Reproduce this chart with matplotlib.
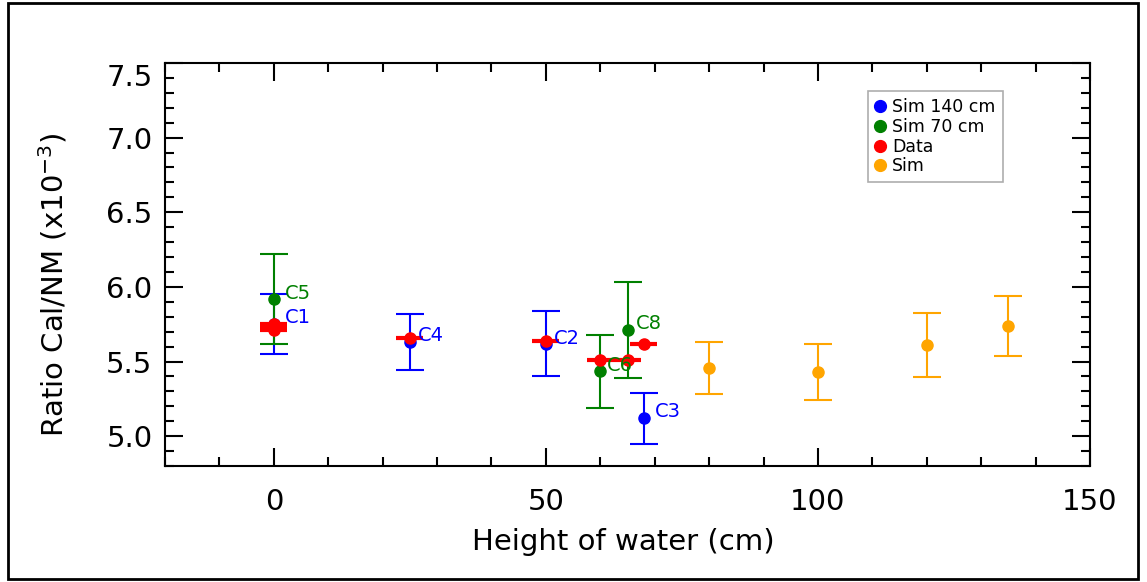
import numpy as np
import matplotlib
matplotlib.use('Agg')
import matplotlib.pyplot as plt
import matplotlib.transforms as mtransforms
from matplotlib.patches import Rectangle
from matplotlib.lines import Line2D

# ---------------------
# DATA (ratio in units of 1e-3)
# ---------------------
# Simulation, 140 cm configuration
sim140_x = [0, 25, 50, 68]
sim140_y = [5.75, 5.63, 5.62, 5.12]
sim140_err = [0.20, 0.19, 0.22, 0.17]
sim140_names = ['C1', 'C4', 'C2', 'C3']

# Simulation, 70 cm configuration
sim70_x = [0, 60, 65]
sim70_y = [5.92, 5.435, 5.71]
sim70_err = [0.30, 0.245, 0.32]
sim70_names = ['C5', 'C6', 'C8']

# Measured data (x error = water height uncertainty)
data_x = [0, 0, 0, 25, 50, 60, 65, 68]
data_y = [5.71, 5.73, 5.75, 5.66, 5.64, 5.51, 5.51, 5.62]
data_xerr = [2.5, 2.5, 2.5, 2.5, 2.5, 2.5, 2.5, 2.5]

# Simulation scan in water height
sim_x = [80, 100, 120, 135]
sim_y = [5.455, 5.43, 5.61, 5.74]
sim_err = [0.175, 0.19, 0.215, 0.20]

legend_labels = ['Sim 140 cm', 'Sim 70 cm', 'Data', 'Sim']

# label offsets (points) for the configuration names
sim140_off = [(8, 5), (6, 5), (6, 4), (8, 5)]
sim70_off = [(8, 4), (5, 4), (6, 5)]

BLUE = '#0000ff'
GREEN = '#008000'
RED = '#ff0000'
ORANGE = '#ffa500'

plt.rcParams['font.family'] = 'DejaVu Sans'

fig = plt.figure(figsize=(11.47, 5.82), dpi=100)
ax = fig.add_axes([165 / 1147, 1 - 466 / 582, 925 / 1147, 403 / 582])

eb = dict(fmt='o', ms=8, capsize=10, elinewidth=1.5, capthick=1.5, linestyle='none')

ax.errorbar(sim140_x, sim140_y, yerr=sim140_err, color=BLUE, ecolor=BLUE, zorder=2, **eb)
ax.errorbar(sim70_x, sim70_y, yerr=sim70_err, color=GREEN, ecolor=GREEN, zorder=3, **eb)
ax.errorbar(data_x, data_y, xerr=data_xerr, fmt='o', ms=8, color=RED,
            ecolor=RED, elinewidth=3, capsize=0, linestyle='none', zorder=4)
ax.errorbar(sim_x, sim_y, yerr=sim_err, color=ORANGE, ecolor=ORANGE, zorder=2, **eb)

for x, y, name, off in zip(sim140_x, sim140_y, sim140_names, sim140_off):
    ax.annotate(name, (x, y), xytext=off, textcoords='offset points',
                ha='left', va='center', color=BLUE, fontsize=14, zorder=5)
for x, y, name, off in zip(sim70_x, sim70_y, sim70_names, sim70_off):
    ax.annotate(name, (x, y), xytext=off, textcoords='offset points',
                ha='left', va='center', color=GREEN, fontsize=14, zorder=5)

ax.set_xlim(-20, 150)
ax.set_ylim(4.8, 7.5)
ax.set_xticks([0, 50, 100, 150])
ax.set_xticks(np.arange(-20, 151, 10), minor=True)
ax.set_yticks([5.0, 5.5, 6.0, 6.5, 7.0, 7.5])
ax.set_yticks(np.arange(4.8, 7.51, 0.1), minor=True)
ax.set_yticklabels(['5.0', '5.5', '6.0', '6.5', '7.0', '7.5'])

ax.tick_params(which='both', direction='in', top=True, right=True,
               width=1.5, labelsize=21)
ax.tick_params(which='major', length=13)
ax.tick_params(which='minor', length=6.5)
ax.tick_params(axis='y', pad=9)
ax.tick_params(axis='x', pad=16)
for sp in ax.spines.values():
    sp.set_linewidth(1.5)

# top label sits a little below the axis edge
top_lbl = ax.get_yticklabels()[-1]
top_lbl.set_transform(top_lbl.get_transform() +
                      mtransforms.ScaledTranslation(0, -12 / 100, fig.dpi_scale_trans))

ax.set_xlabel('Height of water (cm)', fontsize=21)
ax.set_ylabel('Ratio Cal/NM (x10$^{-3}$)', fontsize=21)
ax.xaxis.set_label_coords(0.495, -0.155)
ax.yaxis.set_label_coords(-0.103, 0.45)

handles = [Line2D([], [], marker='o', ls='none', color=c, ms=8.5)
           for c in (BLUE, GREEN, RED, ORANGE)]
leg = ax.legend(handles, legend_labels, loc='upper left',
                bbox_to_anchor=(0.76, 0.93), fontsize=12.5,
                frameon=True, fancybox=False, edgecolor='#999999',
                handlelength=0.6, handletextpad=0.4, labelspacing=0.1,
                borderpad=0.4, borderaxespad=0)
leg.get_frame().set_linewidth(1.2)

# outer frame around the whole figure
fig.patches.append(Rectangle((8 / 1147, 3 / 582), 1130 / 1147, 576 / 582,
                             transform=fig.transFigure, fill=False,
                             edgecolor='black', linewidth=2))

fig.savefig('out.png', dpi=100)
